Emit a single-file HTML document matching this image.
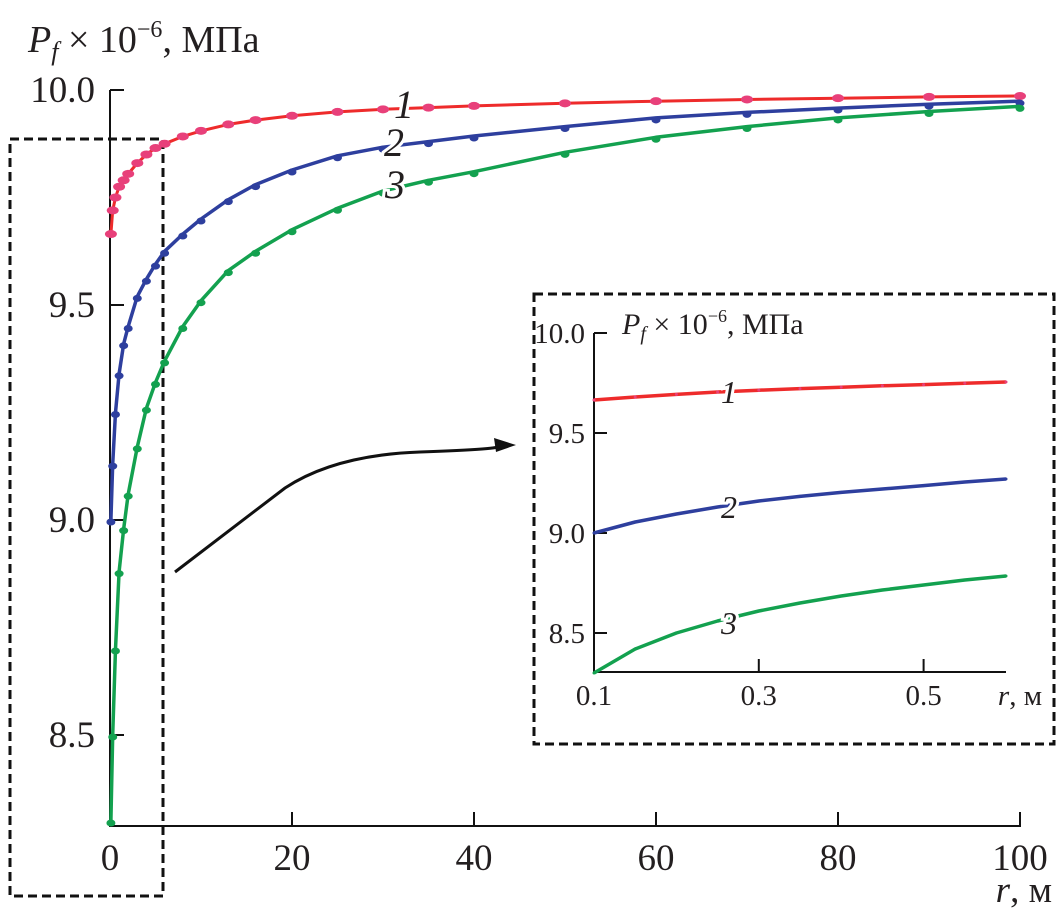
<!DOCTYPE html>
<html><head><meta charset="utf-8"><style>
body{margin:0;background:#fff}
svg{display:block;font-family:"Liberation Serif",serif}
</style></head><body>
<svg id="c" width="1063" height="916" viewBox="0 0 1063 916"></svg>
<script>
const rMain=[0.1,0.3,0.6,1,1.5,2,3,4,5,6,8,10,13,16,20,25,30,35,40,50,60,70,80,90,100];
const p1=[9.665,9.72,9.75,9.775,9.79,9.805,9.83,9.85,9.865,9.875,9.892,9.905,9.92,9.93,9.94,9.949,9.955,9.959,9.963,9.969,9.974,9.978,9.981,9.984,9.986];
const p2=[9.0,9.13,9.25,9.34,9.41,9.45,9.52,9.56,9.595,9.625,9.665,9.7,9.745,9.78,9.814,9.847,9.867,9.88,9.893,9.915,9.935,9.948,9.958,9.967,9.974];
const p3=[8.3,8.5,8.7,8.88,8.98,9.06,9.17,9.26,9.32,9.37,9.45,9.51,9.58,9.625,9.675,9.725,9.765,9.79,9.81,9.855,9.89,9.915,9.935,9.95,9.962];
const rIn=[0.1,0.15,0.2,0.25,0.3,0.35,0.4,0.45,0.5,0.55,0.6];
const q1=[9.665,9.68,9.693,9.705,9.714,9.722,9.729,9.736,9.742,9.749,9.755];
const q2=[9.0,9.055,9.095,9.13,9.16,9.183,9.203,9.22,9.237,9.255,9.27];
const q3=[8.3,8.42,8.5,8.56,8.61,8.65,8.685,8.715,8.74,8.765,8.785];
const xTicks=[0,20,40,60,80,100];
const yTicks=[8.5,9.0,9.5,10.0];
const xInTicks=[0.1,0.3,0.5];
const yInTicks=[8.5,9.0,9.5,10.0];
const colors=["#ee2b2b","#2e3f9e","#13a14f"];
const dotColors=["#e8407a","#2e3f9e","#13a14f"];

const NS="http://www.w3.org/2000/svg";
const svg=document.getElementById('c');
function el(t,a,p){const e=document.createElementNS(NS,t);for(const k in a)e.setAttribute(k,a[k]);(p||svg).appendChild(e);return e;}
const X=r=>110+r*9.1, Y=v=>90+(10-v)*430;
const Xi=r=>594+(r-0.1)*824, Yi=v=>333+(10-v)*200;

function txt(s,x,y,size,anchor,name,italic){const t=el('text',{x:x,y:y,'font-size':size,'text-anchor':anchor||'middle','font-style':italic?'italic':'normal',fill:'#231f20'});t.textContent=s;

return t;}

let b=el('rect',{x:10,y:139,width:153,height:757,fill:'none',stroke:'#111','stroke-width':3,'stroke-dasharray':'9,5'});

let a=el('path',{d:`M110 90H124M110 90V826H1020V812`,fill:'none',stroke:'#111','stroke-width':2});

xTicks.forEach(v=>{let l=el('line',{x1:X(v),x2:X(v),y1:826,y2:812,stroke:'#111','stroke-width':2});

txt(String(v),X(v),870,37,'middle','x-tick-label');});
yTicks.forEach(v=>{let l=el('line',{x1:110,x2:124,y1:Y(v),y2:Y(v),stroke:'#111','stroke-width':2});

txt(v.toFixed(1),95,Y(v)+12,37,'end','y-tick-label');});
let yt=el('text',{x:28,y:52,'font-size':38,fill:'#231f20'});
yt.innerHTML='<tspan font-style="italic">P</tspan><tspan font-style="italic" font-size="26" dy="8">f</tspan><tspan dy="-8"> × 10</tspan><tspan font-size="24" dy="-15">−6</tspan><tspan dy="15">, МПа</tspan>';

let xt=el('text',{x:1052,y:902,'font-size':37,'text-anchor':'end',fill:'#231f20'});
xt.innerHTML='<tspan font-style="italic">r</tspan>, м';


function series(xs,ys,fx,fy,col,dcol,w,rx,ry,off,name){
 const d=xs.map((x,i)=>(i?'L':'M')+fx(x).toFixed(1)+' '+fy(ys[i]).toFixed(1)).join('');
 const p=el('path',{d:d,fill:'none',stroke:col,'stroke-width':w,'stroke-linejoin':'round'});
 
 xs.forEach((x,i)=>{const c=el('ellipse',{cx:fx(x),cy:fy(ys[i])+off,rx:rx,ry:ry,fill:dcol});
 });
}
series(rMain,p1,X,Y,colors[0],dotColors[0],3,6,4,0,'series-1');
series(rMain,p2,X,Y,colors[1],dotColors[1],3.5,4.5,3.5,2,'series-2');
series(rMain,p3,X,Y,colors[2],dotColors[2],3.5,4.5,3.5,2,'series-3');
[["1",394,118],["2",384,156],["3",385,198]].forEach(l=>{
 const t=el('text',{x:l[1],y:l[2],'font-size':40,'font-style':'italic',fill:'#231f20'});t.textContent=l[0];
 
 t.setAttribute('stroke','#fff');t.setAttribute('stroke-width','6');t.setAttribute('paint-order','stroke');});

let ar=el('path',{d:'M175 572 L285 488 Q335 455 420 452 T498 446',fill:'none',stroke:'#111','stroke-width':3});

let ah=el('path',{d:'M516 445 L494 438 L496 452 Z',fill:'#111'});


let ib=el('rect',{x:534,y:294,width:520,height:450,fill:'#fff',stroke:'#111','stroke-width':3,'stroke-dasharray':'9,5'});

let ia=el('path',{d:`M594 333H605M594 333V672H1006`,fill:'none',stroke:'#111','stroke-width':2});

xInTicks.forEach(v=>{let l=el('line',{x1:Xi(v),x2:Xi(v),y1:672,y2:659,stroke:'#111','stroke-width':2});

txt(v.toFixed(1),Xi(v),705,29,'middle','inset-x-tick-label');});
yInTicks.forEach(v=>{let l=el('line',{x1:594,x2:607,y1:Yi(v),y2:Yi(v),stroke:'#111','stroke-width':2});

txt(v.toFixed(1),585,Yi(v)+10,29,'end','inset-y-tick-label');});
let it=el('text',{x:622,y:334,'font-size':30,fill:'#231f20'});
it.innerHTML='<tspan font-style="italic">P</tspan><tspan font-style="italic" font-size="20" dy="6">f</tspan><tspan dy="-6"> × 10</tspan><tspan font-size="18" dy="-12">−6</tspan><tspan dy="12">, МПа</tspan>';

let ixt=el('text',{x:1020,y:705,'font-size':29,'text-anchor':'middle',fill:'#231f20'});
ixt.innerHTML='<tspan font-style="italic">r</tspan>, м';

series(rIn,q1,Xi,Yi,colors[0],dotColors[0],3.5,1.5,1.5,0,'inset-series-1');
series(rIn,q2,Xi,Yi,colors[1],dotColors[1],3.5,1.5,1.5,0,'inset-series-2');
series(rIn,q3,Xi,Yi,colors[2],dotColors[2],3.5,1.5,1.5,0,'inset-series-3');
[["1",729,403],["2",729,518],["3",729,634]].forEach(l=>{
 const t=el('text',{x:l[1],y:l[2],'font-size':32,'font-style':'italic','text-anchor':'middle',fill:'#231f20',stroke:'#fff','stroke-width':6,'paint-order':'stroke'});t.textContent=l[0];
 });
</script>
</body></html>
